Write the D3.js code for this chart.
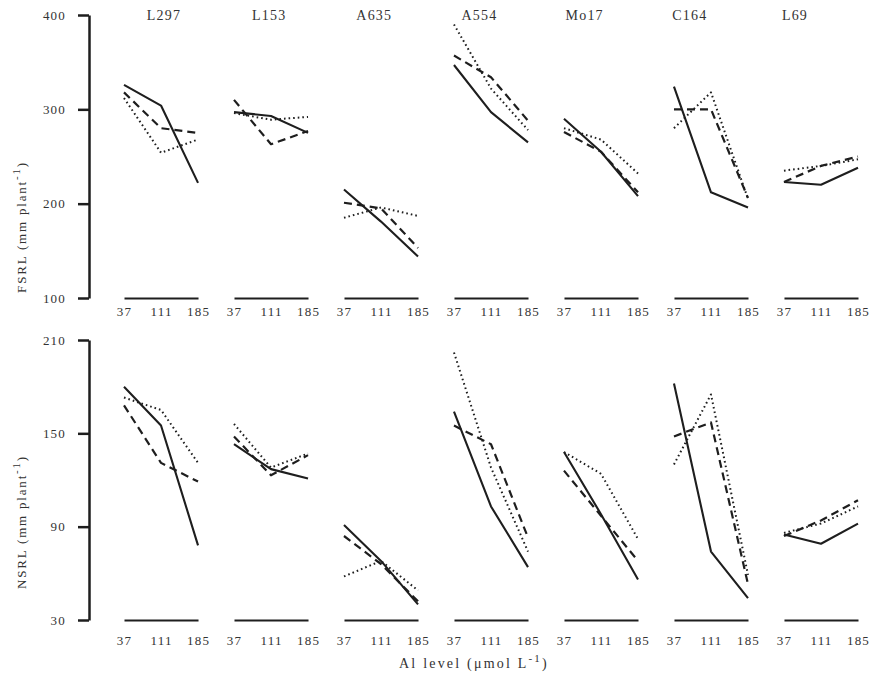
<!DOCTYPE html>
<html>
<head>
<meta charset='utf-8'>
<title>FSRL and NSRL by Al level</title>
<script src='https://d3js.org/d3.v7.min.js'></script>
<style>
    body { margin:0; background:#fff; }
    svg text { font-family:'Liberation Serif', 'DejaVu Serif', serif; fill:#333; letter-spacing:1.2px; }
</style>
</head>
<body>
<div id='chart'></div>
<script>
var genotypes = ['L297', 'L153', 'A635', 'A554', 'Mo17', 'C164', 'L69'];
var alLevels = [37, 111, 185];
var fsrlTicks = [100, 200, 300, 400];
var nsrlTicks = [30, 90, 150, 210];

// FSRL, one row per genotype, values at 37 / 111 / 185
var fsrlSolid  = [[326, 304, 222], [297, 293, 275], [215, 181, 144], [347, 297, 265], [290, 255, 208], [324, 212, 196], [223, 220, 238]];
var fsrlDashed = [[318, 280, 275], [310, 263, 277], [201, 195, 153], [357, 334, 288], [276, 255, 212], [300, 300, 206], [223, 240, 250]];
var fsrlDotted = [[312, 254, 268], [296, 289, 292], [185, 196, 187], [390, 322, 278], [280, 268, 232], [280, 318, 205], [235, 240, 247]];

// NSRL
var nsrlSolid  = [[180, 155, 78], [143, 127, 121], [91, 68, 40], [164, 103, 64], [138, 98, 56], [182, 74, 44], [85, 79, 92]];
var nsrlDashed = [[168, 131, 119], [148, 123, 136], [84, 66, 42], [155, 143, 83], [126, 97, 68], [148, 157, 53], [84, 94, 107]];
var nsrlDotted = [[173, 165, 131], [156, 128, 137], [58, 68, 49], [202, 128, 74], [138, 124, 82], [130, 175, 59], [86, 92, 103]];

var w = 881;
var h = 681;
var ink = '#1e1e1e';

var svg = d3.select('#chart')
            .append('svg')
            .attr('width', w)
            .attr('height', h);

var groupX = d3.scaleBand()
               .domain(genotypes)
               .range([124, 858])
               .paddingInner(0.327)
               .paddingOuter(0);

var titleX = d3.scalePoint()
               .domain(genotypes)
               .range([164, 795]);

var levelX = d3.scaleLinear()
               .domain([37, 185])
               .range([0, groupX.bandwidth()]);

var lineStyles = [
    {dash: null, width: 2.1},
    {dash: '8,5', width: 2.2},
    {dash: '1.6,3', width: 2}
];

function drawPanel(p) {
    var g = svg.append('g');

    // y axis
    var yAxis = g.append('g')
        .attr('transform', 'translate(89,0)')
        .call(d3.axisLeft(p.y).tickValues(p.ticks).tickSize(11).tickSizeOuter(0).tickPadding(12));
    yAxis.select('.domain').attr('stroke', ink).attr('stroke-width', 2.5);
    yAxis.selectAll('.tick line').attr('stroke', ink).attr('stroke-width', 2.5);
    yAxis.selectAll('.tick text').attr('font-size', '13px').attr('font-family', null);

    // axis title, rotated
    var t = g.append('text')
        .attr('transform', 'translate(26,' + p.labelY + ') rotate(-90)')
        .attr('text-anchor', 'middle')
        .attr('font-size', '13px')
        .style('letter-spacing', '1.8px');
    t.append('tspan').text(p.label + ' (mm plant');
    t.append('tspan').attr('dy', -6).attr('font-size', '11px').text('-1');
    t.append('tspan').attr('dy', 6).text(')');

    genotypes.forEach(function(name, gi) {
        var gx = groupX(name);

        var xAxis = g.append('g')
            .attr('transform', 'translate(' + gx + ',' + p.y(p.base) + ')')
            .call(d3.axisBottom(levelX).tickValues(alLevels).tickSize(0).tickSizeOuter(0).tickPadding(p.tickPad));
        xAxis.select('.domain').attr('stroke', ink).attr('stroke-width', 2.2);
        xAxis.selectAll('.tick text').attr('font-size', '13px').attr('font-family', null);

        var line = d3.line()
            .x(function(d, i) { return gx + levelX(alLevels[i]); })
            .y(function(d) { return p.y(d); });

        p.series.forEach(function(s, si) {
            g.append('path')
                .attr('d', line(s[gi]))
                .attr('fill', 'none')
                .attr('stroke', ink)
                .attr('stroke-width', lineStyles[si].width)
                .attr('stroke-dasharray', lineStyles[si].dash)
                .attr('stroke-linejoin', 'round');
        });

        if (p.titles) {
            g.append('text')
                .attr('x', titleX(name))
                .attr('y', 20)
                .attr('text-anchor', 'middle')
                .attr('font-size', '14px')
                .text(name);
        }
    });
}

drawPanel({
    y: d3.scaleLinear().domain([100, 400]).range([298, 15]),
    ticks: fsrlTicks,
    base: 100,
    label: 'FSRL',
    labelY: 227,
    tickPad: 9,
    titles: true,
    series: [fsrlSolid, fsrlDashed, fsrlDotted]
});

drawPanel({
    y: d3.scaleLinear().domain([30, 210]).range([620, 340]),
    ticks: nsrlTicks,
    base: 30,
    label: 'NSRL',
    labelY: 522,
    tickPad: 16,
    titles: false,
    series: [nsrlSolid, nsrlDashed, nsrlDotted]
});

var xt = svg.append('text')
    .attr('x', 474)
    .attr('y', 668)
    .attr('text-anchor', 'middle')
    .attr('font-size', '14px')
    .style('letter-spacing', '2.2px');
xt.append('tspan').text('Al level (μmol L');
xt.append('tspan').attr('dy', -6).attr('font-size', '11px').text('-1');
xt.append('tspan').attr('dy', 6).text(')');
</script>
</body>
</html>
